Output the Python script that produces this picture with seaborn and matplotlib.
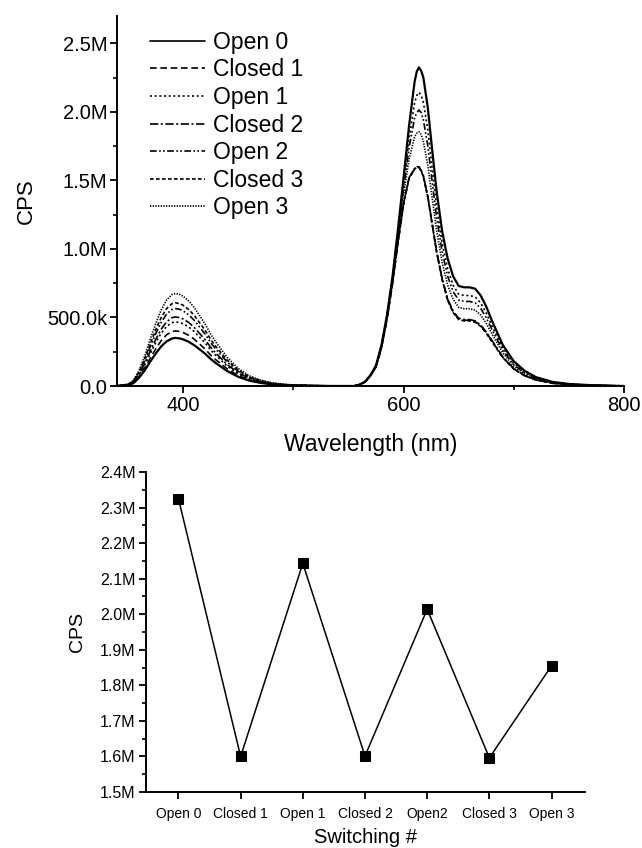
import numpy as np
import pandas as pd
import seaborn as sns
import matplotlib
matplotlib.use("Agg")
import matplotlib.pyplot as plt
from matplotlib.ticker import FuncFormatter, MultipleLocator

# %%
# emission spectra, CPS in millions
wavelength = [340, 350, 355, 360, 365, 370, 375, 380, 385, 390, 393, 397, 400, 405, 410,
              415, 420, 425, 430, 435, 440, 450, 460, 470, 480, 490, 500, 520, 540,
              555, 560, 565, 570, 575, 580, 585, 590, 595, 600, 605, 610, 612, 614, 616, 618,
              622, 626, 630, 635, 640, 645, 650, 655, 660, 665, 670, 675, 680, 690, 700,
              710, 720, 735, 750, 770, 800]

open0 = [0, 0.007, 0.021, 0.060, 0.112, 0.176, 0.235, 0.288, 0.326, 0.347, 0.351, 0.347, 0.340, 0.323, 0.298,
         0.267, 0.235, 0.197, 0.165, 0.137, 0.109, 0.067, 0.039, 0.023, 0.012, 0.007, 0.004, 0.001, 0,
         0, 0.01, 0.03, 0.08, 0.15, 0.30, 0.52, 0.80, 1.15, 1.52, 1.90, 2.22, 2.295, 2.325, 2.30, 2.25,
         2.03, 1.72, 1.42, 1.13, 0.93, 0.80, 0.73, 0.72, 0.72, 0.71, 0.66, 0.58, 0.48, 0.30, 0.18,
         0.11, 0.065, 0.03, 0.015, 0.006, 0]
closed1 = [0, 0.008, 0.024, 0.068, 0.129, 0.201, 0.269, 0.330, 0.374, 0.398, 0.402, 0.398, 0.390, 0.370, 0.342,
           0.306, 0.269, 0.225, 0.189, 0.157, 0.125, 0.076, 0.044, 0.026, 0.014, 0.008, 0.004, 0.002, 0,
           0, 0.01, 0.03, 0.075, 0.14, 0.28, 0.49, 0.75, 1.05, 1.33, 1.52, 1.585, 1.60, 1.598, 1.57, 1.53,
           1.38, 1.18, 0.98, 0.78, 0.63, 0.54, 0.49, 0.48, 0.48, 0.47, 0.44, 0.39, 0.33, 0.21, 0.125,
           0.075, 0.045, 0.02, 0.01, 0.004, 0]
open1 = [0, 0.009, 0.028, 0.080, 0.150, 0.234, 0.314, 0.384, 0.435, 0.463, 0.468, 0.463, 0.454, 0.431, 0.398,
         0.356, 0.314, 0.262, 0.220, 0.183, 0.145, 0.089, 0.051, 0.030, 0.016, 0.009, 0.005, 0.002, 0,
         0, 0.01, 0.03, 0.078, 0.148, 0.295, 0.513, 0.788, 1.125, 1.473, 1.805, 2.065, 2.12, 2.143, 2.12, 2.07,
         1.868, 1.585, 1.31, 1.043, 0.855, 0.735, 0.67, 0.66, 0.66, 0.65, 0.605, 0.533, 0.443, 0.278, 0.166,
         0.101, 0.06, 0.028, 0.014, 0.0055, 0]
closed2 = [0, 0.010, 0.030, 0.086, 0.161, 0.252, 0.338, 0.413, 0.469, 0.499, 0.504, 0.499, 0.489, 0.464, 0.428,
           0.383, 0.338, 0.282, 0.237, 0.197, 0.156, 0.096, 0.055, 0.033, 0.018, 0.010, 0.005, 0.002, 0,
           0, 0.01, 0.03, 0.075, 0.14, 0.28, 0.49, 0.75, 1.05, 1.33, 1.52, 1.587, 1.601, 1.599, 1.572, 1.535,
           1.385, 1.185, 0.985, 0.785, 0.635, 0.545, 0.495, 0.485, 0.485, 0.475, 0.445, 0.395, 0.335, 0.213, 0.127,
           0.076, 0.046, 0.021, 0.01, 0.004, 0]
open2 = [0, 0.011, 0.034, 0.096, 0.181, 0.283, 0.379, 0.463, 0.525, 0.559, 0.565, 0.559, 0.548, 0.520, 0.480,
         0.429, 0.379, 0.316, 0.266, 0.220, 0.175, 0.107, 0.062, 0.037, 0.020, 0.011, 0.006, 0.002, 0,
         0, 0.01, 0.03, 0.077, 0.146, 0.291, 0.507, 0.779, 1.107, 1.438, 1.737, 1.954, 1.995, 2.014, 1.995, 1.941,
         1.751, 1.488, 1.231, 0.98, 0.801, 0.688, 0.627, 0.617, 0.617, 0.607, 0.566, 0.498, 0.416, 0.261, 0.156,
         0.095, 0.056, 0.026, 0.013, 0.005, 0]
closed3 = [0, 0.012, 0.036, 0.103, 0.194, 0.304, 0.407, 0.498, 0.565, 0.601, 0.607, 0.601, 0.589, 0.558, 0.516,
           0.461, 0.407, 0.340, 0.285, 0.237, 0.188, 0.115, 0.067, 0.039, 0.021, 0.012, 0.006, 0.002, 0,
           0, 0.01, 0.03, 0.075, 0.14, 0.28, 0.49, 0.75, 1.05, 1.33, 1.515, 1.582, 1.596, 1.594, 1.567, 1.525,
           1.375, 1.175, 0.975, 0.775, 0.625, 0.535, 0.485, 0.475, 0.475, 0.465, 0.435, 0.385, 0.325, 0.207, 0.123,
           0.074, 0.044, 0.02, 0.01, 0.004, 0]
open3 = [0, 0.014, 0.041, 0.115, 0.216, 0.338, 0.452, 0.554, 0.628, 0.668, 0.675, 0.668, 0.655, 0.621, 0.574,
         0.513, 0.452, 0.378, 0.317, 0.263, 0.209, 0.128, 0.074, 0.044, 0.024, 0.014, 0.007, 0.003, 0,
         0, 0.01, 0.03, 0.076, 0.144, 0.287, 0.501, 0.768, 1.085, 1.397, 1.654, 1.818, 1.845, 1.855, 1.835, 1.783,
         1.609, 1.370, 1.135, 0.903, 0.736, 0.632, 0.574, 0.564, 0.564, 0.554, 0.517, 0.457, 0.383, 0.242, 0.144,
         0.087, 0.052, 0.024, 0.012, 0.0047, 0]

spectrum_names = ["Open 0", "Closed 1", "Open 1", "Closed 2", "Open 2", "Closed 3", "Open 3"]

# peak intensity per switching step (millions)
switch_labels = ["Open 0", "Closed 1", "Open 1", "Closed 2", "Open2", "Closed 3", "Open 3"]
peak_cps = [2.325, 1.600, 2.143, 1.601, 2.014, 1.596, 1.855]

# %%
sns.set_theme(style="ticks")
plt.rcParams["font.family"] = ["Liberation Sans", "DejaVu Sans"]
plt.rcParams.update({
    "axes.linewidth": 1.4,
    "axes.edgecolor": "black",
    "axes.labelcolor": "black",
    "text.color": "black",
    "xtick.color": "black",
    "ytick.color": "black",
})

spectra = [open0, closed1, open1, closed2, open2, closed3, open3]
df = pd.concat([pd.DataFrame({"wavelength": wavelength, "cps": s, "series": n})
                for n, s in zip(spectrum_names, spectra)], ignore_index=True)

dash_styles = {
    "Open 0": "",
    "Closed 1": (4, 2.2),
    "Open 1": (1.2, 1.6),
    "Closed 2": (5, 1.5, 1.2, 1.5),
    "Open 2": (4, 1.5, 1, 1.3, 1, 1.5),
    "Closed 3": (2.2, 1.4),
    "Open 3": (0.8, 0.8),
}

fig = plt.figure(figsize=(6.42, 8.48), dpi=100)
ax1 = fig.add_axes([117 / 642, 1 - 386 / 848, 507 / 642, 370 / 848])
ax2 = fig.add_axes([145.5 / 642, 1 - 792 / 848, 439 / 642, 320 / 848])

sns.lineplot(data=df, x="wavelength", y="cps", style="series", dashes=dash_styles,
             color="black", linewidth=1.2, ax=ax1, sort=False)
for ln in ax1.lines[:1]:
    ln.set_linewidth(1.6)

ax1.set_xlim(340, 800)
ax1.set_ylim(0, 2.7)
ax1.xaxis.set_major_locator(MultipleLocator(200))
ax1.xaxis.set_minor_locator(MultipleLocator(100))
ax1.yaxis.set_major_locator(MultipleLocator(0.5))
ax1.yaxis.set_minor_locator(MultipleLocator(0.25))


def cps_fmt(v, _):
    if abs(v) < 1e-9:
        return "0.0"
    if v < 1:
        return f"{v * 1000:.1f}k"
    return f"{v:.1f}M"


ax1.yaxis.set_major_formatter(FuncFormatter(cps_fmt))
ax1.tick_params(which="major", length=5, width=1.3, labelsize=14.5, pad=2)
ax1.tick_params(which="minor", length=3, width=1.2)
ax1.set_xlabel("Wavelength (nm)", fontsize=16.5, labelpad=13)
ax1.set_ylabel("CPS", fontsize=16, labelpad=7)
sns.despine(ax=ax1)

handles, labels = ax1.get_legend_handles_labels()
leg = ax1.legend(handles, labels, loc="upper left", bbox_to_anchor=(0.065, 0.96),
                 frameon=False, fontsize=16.5, handlelength=2.4, handletextpad=0.35,
                 labelspacing=0.2, borderpad=0, borderaxespad=0)
for h in leg.legend_handles:
    h.set_color("black")

# %%
sw = pd.DataFrame({"step": switch_labels, "cps": peak_cps})
sns.lineplot(data=sw, x="step", y="cps", color="black", linewidth=1.1,
             marker="s", markersize=7, markeredgecolor="black", ax=ax2, sort=False)
ax2.set_xlim(-0.53, 6.53)
ax2.set_ylim(1.5, 2.4)
ax2.yaxis.set_major_locator(MultipleLocator(0.1))
ax2.yaxis.set_minor_locator(MultipleLocator(0.05))
ax2.yaxis.set_major_formatter(FuncFormatter(lambda v, _: f"{v:.1f}M"))
ax2.tick_params(axis="y", which="major", length=5, width=1.3, labelsize=11.5, pad=2)
ax2.tick_params(axis="y", which="minor", length=3, width=1.2)
ax2.tick_params(axis="x", which="major", length=5, width=1.3, labelsize=10, pad=6)
ax2.set_xlabel("Switching #", fontsize=14.5, labelpad=5)
ax2.set_ylabel("CPS", fontsize=14, labelpad=10)
sns.despine(ax=ax2)

fig.savefig("out.png", dpi=100)
